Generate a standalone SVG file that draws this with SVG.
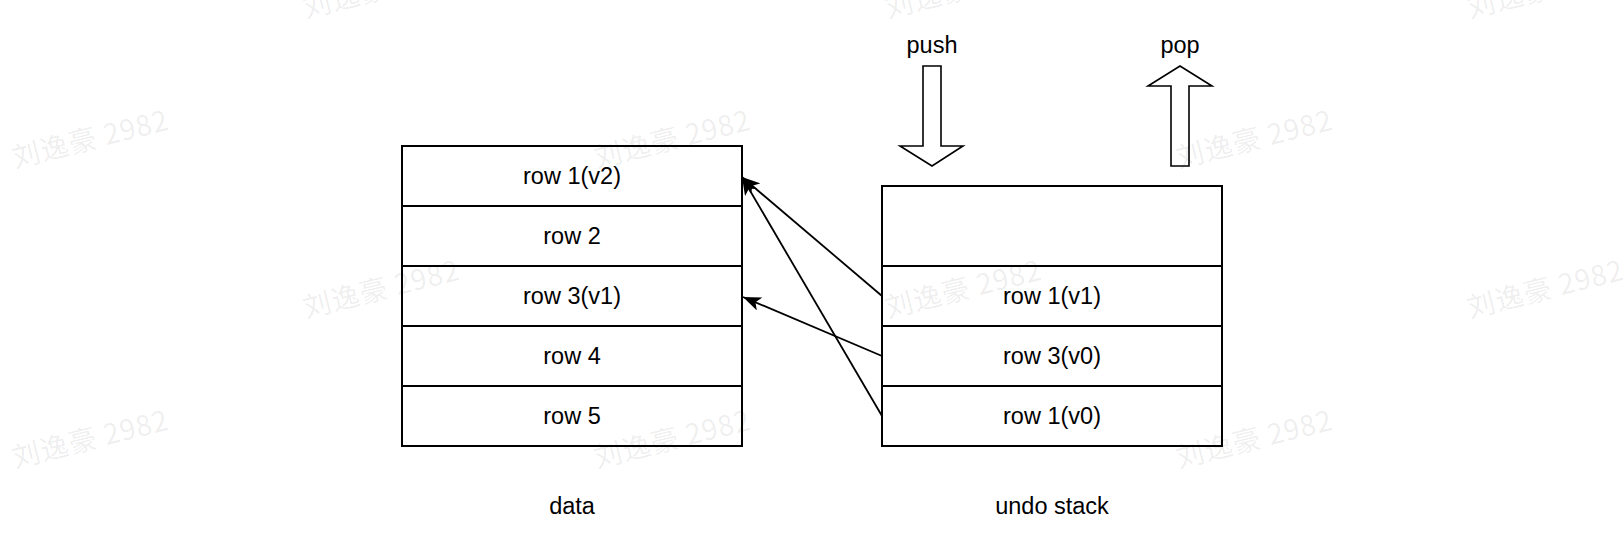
<svg xmlns="http://www.w3.org/2000/svg" width="1624" height="558" viewBox="0 0 1624 558">
  <style>
    .cell { fill: #ffffff; stroke: #000000; stroke-width: 2; }
    .label { font-family: "Liberation Sans", Arial, Helvetica, sans-serif; font-size: 23.5px; fill: #000000; text-anchor: middle; }
    .block { fill: #ffffff; stroke: #000000; stroke-width: 1.6; stroke-linejoin: miter; }
    .link { fill: none; stroke: #000000; stroke-width: 1.8; marker-end: url(#arrow); }
    .wm { font-family: "Noto Sans CJK SC", "Liberation Sans", sans-serif; font-size: 28px; letter-spacing: 1px; fill: #000000; fill-opacity: 0.075; }
  </style>
  <defs>
    <marker id="arrow" viewBox="0 0 18 14" refX="18" refY="7" markerWidth="18" markerHeight="14" markerUnits="userSpaceOnUse" orient="auto">
      <path d="M0,0 L18,7 L0,14 L4.5,7 Z" fill="#000000"/>
    </marker>
  </defs>
  <rect width="1624" height="558" fill="#ffffff"/>

  <!-- data table -->
  <g id="data-row1">
    <rect class="cell" x="402" y="146" width="340" height="60"/>
    <text class="label" x="572" y="184">row 1(v2)</text>
  </g>
  <g id="data-row2">
    <rect class="cell" x="402" y="206" width="340" height="60"/>
    <text class="label" x="572" y="244">row 2</text>
  </g>
  <g id="data-row3">
    <rect class="cell" x="402" y="266" width="340" height="60"/>
    <text class="label" x="572" y="304">row 3(v1)</text>
  </g>
  <g id="data-row4">
    <rect class="cell" x="402" y="326" width="340" height="60"/>
    <text class="label" x="572" y="364">row 4</text>
  </g>
  <g id="data-row5">
    <rect class="cell" x="402" y="386" width="340" height="60"/>
    <text class="label" x="572" y="424">row 5</text>
  </g>
  <g id="data-caption">
    <text class="label" x="572" y="514">data</text>
  </g>

  <!-- undo stack -->
  <g id="stack-top">
    <rect class="cell" x="882" y="186" width="340" height="80"/>
  </g>
  <g id="stack-row1v1">
    <rect class="cell" x="882" y="266" width="340" height="60"/>
    <text class="label" x="1052" y="304">row 1(v1)</text>
  </g>
  <g id="stack-row3v0">
    <rect class="cell" x="882" y="326" width="340" height="60"/>
    <text class="label" x="1052" y="364">row 3(v0)</text>
  </g>
  <g id="stack-row1v0">
    <rect class="cell" x="882" y="386" width="340" height="60"/>
    <text class="label" x="1052" y="424">row 1(v0)</text>
  </g>
  <g id="stack-caption">
    <text class="label" x="1052" y="514">undo stack</text>
  </g>

  <!-- push / pop block arrows -->
  <g id="push">
    <text class="label" x="932" y="53">push</text>
    <polygon class="block" points="923,66 941,66 941,146 963,146 932,166 900,146 923,146"/>
  </g>
  <g id="pop">
    <text class="label" x="1180" y="53">pop</text>
    <polygon class="block" points="1180,66 1212,86 1189,86 1189,166 1171,166 1171,86 1148,86"/>
  </g>

  <!-- connectors -->
  <g id="connectors">
    <line class="link" x1="882" y1="296" x2="742" y2="177"/>
    <line class="link" x1="882" y1="356" x2="743" y2="297"/>
    <line class="link" x1="882" y1="416" x2="742" y2="177"/>
  </g>

  <!-- watermark tiles, laid over the drawing -->
  <g id="watermark">
    <text class="wm" transform="translate(15,168) rotate(-14)">刘逸豪 2982</text>
    <text class="wm" transform="translate(15,468) rotate(-14)">刘逸豪 2982</text>
    <text class="wm" transform="translate(306,18) rotate(-14)">刘逸豪 2982</text>
    <text class="wm" transform="translate(306,318) rotate(-14)">刘逸豪 2982</text>
    <text class="wm" transform="translate(597,168) rotate(-14)">刘逸豪 2982</text>
    <text class="wm" transform="translate(597,468) rotate(-14)">刘逸豪 2982</text>
    <text class="wm" transform="translate(888,18) rotate(-14)">刘逸豪 2982</text>
    <text class="wm" transform="translate(888,318) rotate(-14)">刘逸豪 2982</text>
    <text class="wm" transform="translate(1179,168) rotate(-14)">刘逸豪 2982</text>
    <text class="wm" transform="translate(1179,468) rotate(-14)">刘逸豪 2982</text>
    <text class="wm" transform="translate(1470,18) rotate(-14)">刘逸豪 2982</text>
    <text class="wm" transform="translate(1470,318) rotate(-14)">刘逸豪 2982</text>
  </g>
</svg>
